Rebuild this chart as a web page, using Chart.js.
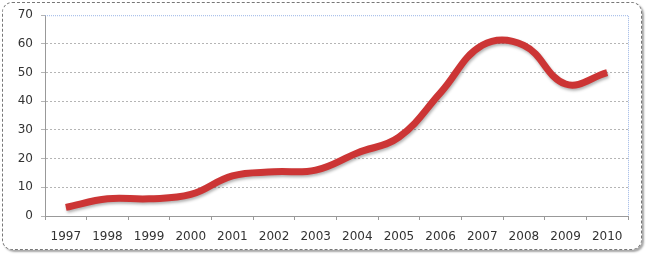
<!DOCTYPE html>
<html lang="en">
<head>
    <meta charset="UTF-8">
    <title>Line chart 1997-2010</title>
    <script src="https://cdn.jsdelivr.net/npm/chart.js@4/dist/chart.umd.min.js"></script>
    <style>
        body { margin: 0; background: #fff; }
        .wrap { position: relative; width: 646px; height: 256px; }
        .frame {
            position: absolute; left: 2px; top: 2px; width: 638px; height: 246px;
            border: 1px dashed #777; border-radius: 10px;
            box-shadow: 2px 2px 2px rgba(0,0,0,0.35);
        }
        canvas { position: absolute; left: 0; top: 0; }
    </style>
</head>
<body>
    <div class="wrap">
        <div class="frame"></div>
        <canvas id="chart" width="646" height="256"></canvas>
    </div>

    <script>
        const years = ['1997', '1998', '1999', '2000', '2001', '2002', '2003',
                       '2004', '2005', '2006', '2007', '2008', '2009', '2010'];
        const values = [3, 6, 6, 7.5, 14, 15.4, 16, 22, 27.5, 43, 59.5, 59.5, 46, 50];

        // blue frame on top/right of the plot area, like the Excel original
        const plotBorder = {
            id: 'plotBorder',
            beforeDatasetsDraw(chart) {
                const { ctx, chartArea: a } = chart;
                ctx.save();
                ctx.strokeStyle = '#9bb5e6';
                ctx.lineWidth = 1;
                ctx.setLineDash([1, 1]);
                ctx.beginPath();
                ctx.moveTo(a.left, a.top + 0.5);
                ctx.lineTo(a.right + 0.5, a.top + 0.5);
                ctx.lineTo(a.right + 0.5, a.bottom);
                ctx.stroke();
                ctx.restore();
            }
        };

        const lineShadow = {
            id: 'lineShadow',
            beforeDatasetDraw(chart) {
                const ctx = chart.ctx;
                ctx.save();
                ctx.shadowColor = 'rgba(0,0,0,0.3)';
                ctx.shadowBlur = 3;
                ctx.shadowOffsetX = 1;
                ctx.shadowOffsetY = 2;
            },
            afterDatasetDraw(chart) {
                chart.ctx.restore();
            }
        };

        Chart.defaults.font.family = '"DejaVu Sans", Verdana, sans-serif';
        Chart.defaults.font.size = 12;
        Chart.defaults.color = '#333';

        new Chart(document.getElementById('chart'), {
            type: 'line',
            data: {
                labels: years,
                datasets: [{
                    data: values,
                    borderColor: '#cc3535',
                    borderWidth: 7,
                    tension: 0.4,
                    pointRadius: 0,
                    fill: false
                }]
            },
            options: {
                responsive: false,
                animation: false,
                layout: { padding: { top: 14, right: 18, bottom: 0, left: 0 } },
                plugins: { legend: { display: false }, tooltip: { enabled: false } },
                scales: {
                    x: {
                        offset: true,
                        afterFit(s) { s.height = 40; },
                        grid: {
                            offset: true,
                            drawOnChartArea: false,
                            tickLength: 4,
                            color: '#999'
                        },
                        border: { color: '#999', dash: [1, 1] },
                        ticks: { padding: 10, maxRotation: 0, autoSkip: false }
                    },
                    y: {
                        min: 0,
                        max: 70,
                        afterFit(s) { s.width = 45; },
                        ticks: { stepSize: 10, padding: 8 },
                        grid: {
                            tickLength: 4,
                            color: (c) => c.tick && c.tick.value === 70 ? 'rgba(0,0,0,0)' : '#b5b5b5',
                            tickColor: '#b5b5b5'
                        },
                        border: { color: '#999', dash: [2, 2] }
                    }
                }
            },
            plugins: [plotBorder, lineShadow]
        });
    </script>
</body>
</html>
